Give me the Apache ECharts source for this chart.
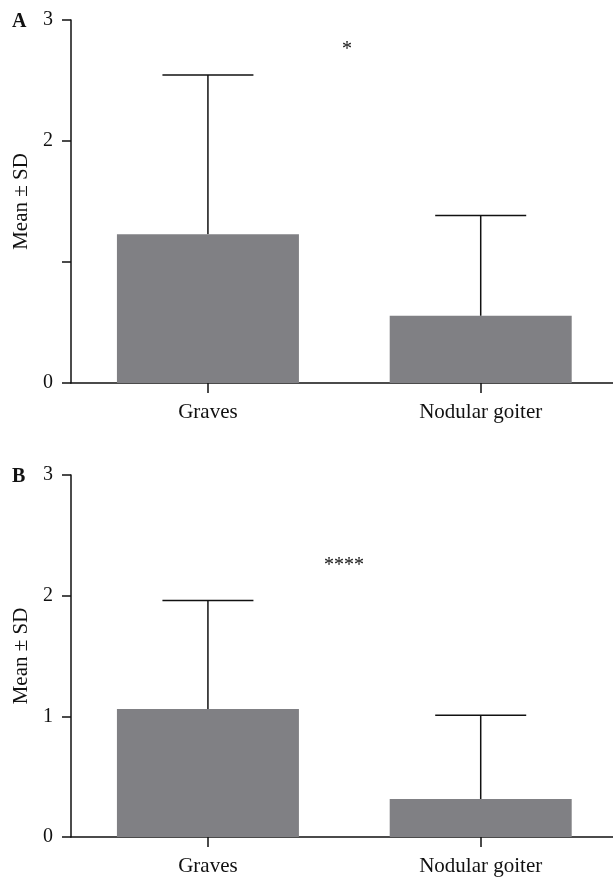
<!DOCTYPE html>
<html>
<head>
<meta charset="utf-8">
<script src="https://cdn.jsdelivr.net/npm/echarts@6/dist/echarts.min.js"></script>
<style>html,body{margin:0;padding:0;background:#fff}#c{width:613px;height:877px}</style>
</head>
<body>
<div id="c"></div>
<script>
var categories = ['Graves', 'Nodular goiter'];
var meanA = [1.23, 0.555];
var sdA = [1.315, 0.83];
var meanB = [1.06, 0.315];
var sdB = [0.90, 0.695];
var yTicks = [0, 1, 2, 3];
var sigA = '*';
var sigB = '****';

var FONT = 'Liberation Serif';
var chart = echarts.init(document.getElementById('c'), null, {renderer: 'canvas'});

function yAxisCfg(idx, hideOne) {
  return {
    gridIndex: idx, type: 'value', min: 0, max: 3, interval: 1,
    name: 'Mean \u00b1 SD', nameLocation: 'middle', nameGap: 37,
    nameTextStyle: {fontFamily: FONT, fontSize: 21, color: '#111'},
    axisLine: {show: true, onZero: false, lineStyle: {color: '#111', width: 1.5}},
    axisTick: {show: true, length: 9, lineStyle: {color: '#111', width: 1.5}},
    axisLabel: {fontFamily: FONT, fontSize: 20, color: '#111', margin: 18,
      formatter: function (v) { return (hideOne && v === 1) ? '' : String(v); }},
    splitLine: {show: false}
  };
}
function catIdx() { return categories.map(function (c, i) { return i; }); }
function xAxisCfg(idx) {
  return {
    gridIndex: idx, type: 'value', min: -0.502, max: 1.485,
    axisLine: {show: true, onZero: false, lineStyle: {color: '#111', width: 1.5}},
    axisTick: {show: true, length: 10, customValues: catIdx(), lineStyle: {color: '#111', width: 1.5}},
    axisLabel: {fontFamily: FONT, fontSize: 21, color: '#111', margin: 19, customValues: catIdx(),
      formatter: function (v) { return categories[Math.round(v)] || ''; }},
    splitLine: {show: false}
  };
}
function errData(mean, sd) {
  return mean.map(function (m, i) { return [i, m, m + sd[i]]; });
}
function barData(mean) {
  return mean.map(function (m, i) { return [i, m]; });
}
function errSeries(idx, mean, sd) {
  return {
    type: 'custom', xAxisIndex: idx, yAxisIndex: idx, z: 1,
    data: errData(mean, sd),
    encode: {x: 0, y: [1, 2]},
    renderItem: function (params, api) {
      var x = api.value(0);
      var lo = api.coord([x, api.value(1)]);
      var hi = api.coord([x, api.value(2)]);
      var half = 45.5;
      var st = {stroke: '#111', lineWidth: 1.5};
      return {type: 'group', children: [
        {type: 'line', shape: {x1: lo[0], y1: lo[1], x2: hi[0], y2: hi[1]}, style: st},
        {type: 'line', shape: {x1: hi[0] - half, y1: hi[1], x2: hi[0] + half, y2: hi[1]}, style: st}
      ]};
    }
  };
}
function barSeries(idx, mean) {
  return {type: 'bar', xAxisIndex: idx, yAxisIndex: idx, data: barData(mean), barWidth: 182,
    itemStyle: {color: '#808084'}, z: 2, silent: true};
}

chart.setOption({
  animation: false,
  backgroundColor: '#fff',
  grid: [
    {left: 71, top: 20, right: 0, height: 363},
    {left: 71, top: 475, right: 0, height: 363}
  ],
  xAxis: [xAxisCfg(0), xAxisCfg(1)],
  yAxis: [yAxisCfg(0, true), yAxisCfg(1, false)],
  series: [
    errSeries(0, meanA, sdA), barSeries(0, meanA),
    errSeries(1, meanB, sdB), barSeries(1, meanB)
  ],
  graphic: [
    {type: 'text', left: 12, top: 12, style: {text: 'A', font: 'bold 20px "Liberation Serif"', fill: '#111'}},
    {type: 'text', left: 12, top: 467, style: {text: 'B', font: 'bold 20px "Liberation Serif"', fill: '#111'}},
    {type: 'text', x: 347, y: 50, style: {text: sigA, font: '20px "Liberation Serif"', fill: '#111', textAlign: 'center', textVerticalAlign: 'middle'}},
    {type: 'text', x: 344, y: 566, style: {text: sigB, font: '20px "Liberation Serif"', fill: '#111', textAlign: 'center', textVerticalAlign: 'middle'}}
  ]
});
</script>
</body>
</html>
